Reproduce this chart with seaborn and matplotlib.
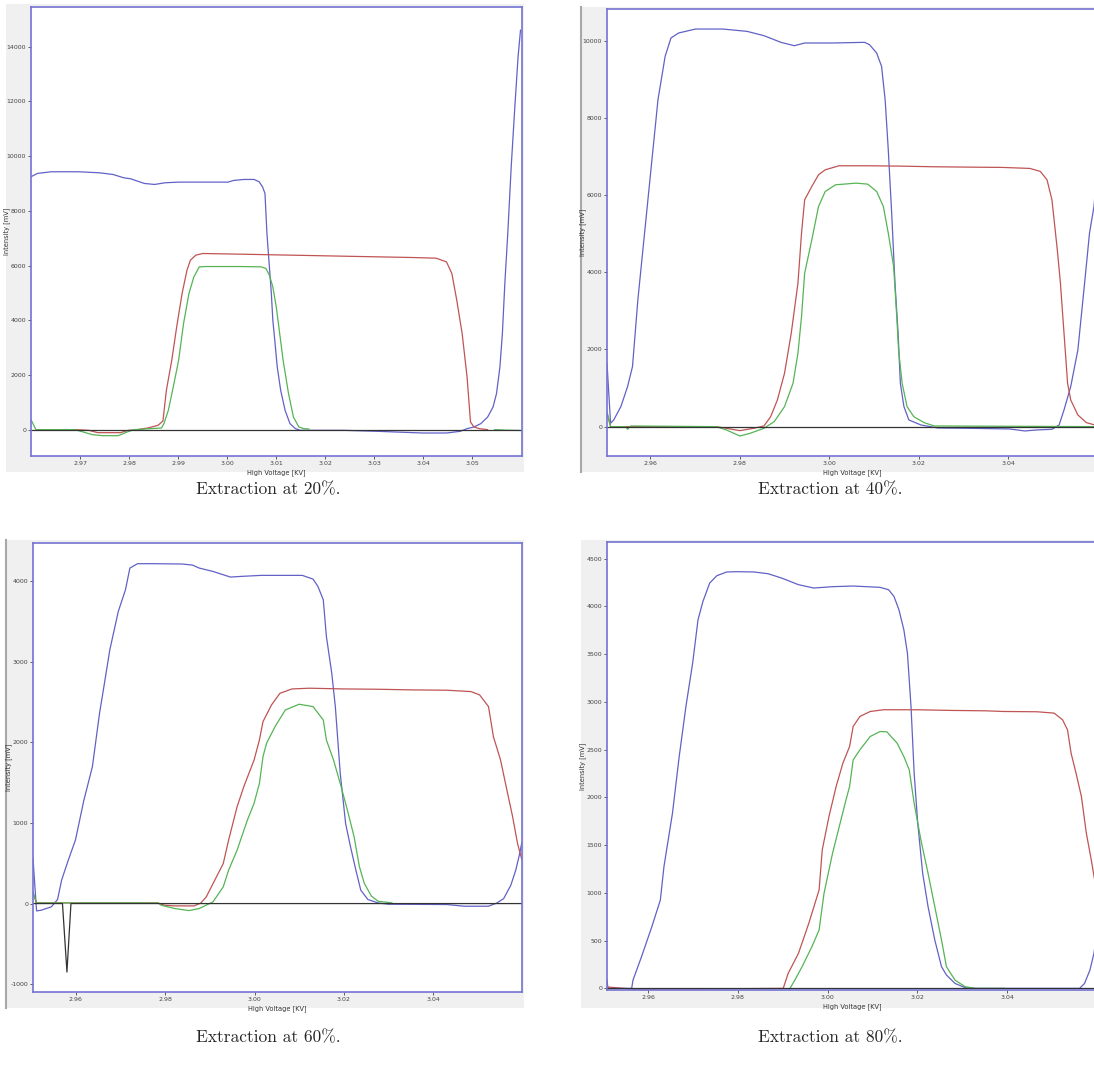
import matplotlib
matplotlib.use("Agg")
import matplotlib.pyplot as plt
import seaborn as sns

# --- Extraction 20% ---
p20_blue_x = [2.9600, 2.9613, 2.9641, 2.9697, 2.9739, 2.9767, 2.9789, 2.9803, 2.9831, 2.9852, 2.9873, 2.9901,
              2.9957, 3.0002, 3.0013, 3.0034, 3.0055, 3.0065, 3.0072, 3.0077, 3.0079, 3.0081, 3.0084, 3.0087,
              3.0090, 3.0093, 3.0097, 3.0102, 3.0109, 3.0118, 3.0128, 3.0139, 3.0149, 3.0167, 3.0237, 3.0307,
              3.0342, 3.0398, 3.0447, 3.0475, 3.0489, 3.0503, 3.0517, 3.0531, 3.0542, 3.0549, 3.0556, 3.0561,
              3.0566, 3.0572, 3.0579, 3.0586, 3.0593, 3.0598]
p20_blue_y = [9244, 9366, 9427, 9427, 9390, 9329, 9207, 9171, 9000, 8963, 9024, 9049,
              9049, 9049, 9110, 9146, 9146, 9061, 8878, 8634, 7902, 7171, 6439, 5707,
              4976, 4000, 3268, 2293, 1439, 707, 220, 37, -24, -24, -24, -61,
              -85, -122, -122, -61, 37, 98, 220, 463, 829, 1317, 2293, 3512,
              5341, 7171, 9610, 11683, 13634, 14610]
p20_red_x = [2.9690, 2.9718, 2.9736, 2.9782, 2.9799, 2.9817, 2.9838, 2.9859, 2.9869, 2.9876, 2.9887, 2.9897,
             2.9908, 2.9918, 2.9925, 2.9936, 2.9950, 3.0027, 3.0097, 3.0167, 3.0237, 3.0307, 3.0377, 3.0426,
             3.0447, 3.0458, 3.0468, 3.0479, 3.0489, 3.0496, 3.0503, 3.0514, 3.0531]
p20_red_y = [0, -24, -110, -110, -24, 0, 61, 159, 317, 1439, 2537, 3756,
             4976, 5829, 6195, 6378, 6439, 6415, 6390, 6366, 6341, 6317, 6293, 6268,
             6134, 5707, 4732, 3512, 1927, 280, 98, 37, 0]
p20_green_x = [2.9600, 2.9610, 2.9690, 2.9725, 2.9746, 2.9778, 2.9796, 2.9810, 2.9866, 2.9871, 2.9880, 2.9890,
               2.9901, 2.9911, 2.9922, 2.9932, 2.9943, 2.9957, 3.0027, 3.0069, 3.0079, 3.0086, 3.0093, 3.0100,
               3.0107, 3.0114, 3.0125, 3.0135, 3.0146, 3.0156, 3.0167]
p20_green_y = [366, 0, 0, -183, -220, -220, -85, 0, 61, 220, 707, 1561,
               2537, 3878, 4976, 5585, 5951, 5963, 5963, 5951, 5890, 5646, 5220, 4488,
               3512, 2537, 1317, 463, 98, 37, 24]
p20_green2_x = [3.0545, 3.0570, 3.0600]
p20_green2_y = [0, -20, -30]
p20_black_x = [2.9600, 3.0600]
p20_black_y = [0, 0]

# --- Extraction 40% ---
p40_blue_x = [2.9503, 2.9511, 2.9518, 2.9534, 2.9549, 2.9560, 2.9572, 2.9587, 2.9602, 2.9617, 2.9633, 2.9646,
              2.9663, 2.9701, 2.9762, 2.9816, 2.9854, 2.9892, 2.9922, 2.9945, 3.0006, 3.0079, 3.0090, 3.0106,
              3.0117, 3.0125, 3.0132, 3.0140, 3.0147, 3.0154, 3.0159, 3.0167, 3.0178, 3.0205, 3.0243, 3.0311,
              3.0403, 3.0437, 3.0464, 3.0498, 3.0514, 3.0525, 3.0540, 3.0556, 3.0571, 3.0582, 3.0592, 3.0601]
p40_blue_y = [1642, 86, 173, 519, 1037, 1556, 3284, 5013, 6742, 8470, 9594, 10069,
              10199, 10302, 10302, 10242, 10130, 9957, 9870, 9940, 9940, 9957, 9897, 9680,
              9335, 8470, 7174, 5445, 3716, 2420, 1124, 519, 173, 43, -35, -43,
              -60, -112, -86, -69, 43, 432, 1037, 1988, 3716, 5013, 5704, 6914]
p40_red_x = [2.9503, 2.9511, 2.9747, 2.9770, 2.9800, 2.9831, 2.9854, 2.9869, 2.9884, 2.9900, 2.9915, 2.9930,
             2.9938, 2.9945, 2.9961, 2.9976, 2.9991, 3.0022, 3.0083, 3.0159, 3.0235, 3.0311, 3.0388, 3.0449,
             3.0472, 3.0487, 3.0498, 3.0510, 3.0517, 3.0525, 3.0533, 3.0540, 3.0556, 3.0575, 3.0601]
p40_red_y = [346, 0, 0, -43, -104, -43, 17, 259, 691, 1383, 2420, 3716,
             5013, 5877, 6223, 6525, 6655, 6759, 6759, 6750, 6733, 6724, 6716, 6690,
             6612, 6396, 5877, 4581, 3716, 2420, 1124, 691, 302, 104, 20]
p40_green_x = [2.9503, 2.9511, 2.9545, 2.9549, 2.9556, 2.9747, 2.9770, 2.9800, 2.9823, 2.9854, 2.9877, 2.9900,
               2.9919, 2.9930, 2.9938, 2.9945, 2.9961, 2.9976, 2.9991, 3.0014, 3.0060, 3.0086, 3.0106, 3.0121,
               3.0132, 3.0144, 3.0151, 3.0155, 3.0163, 3.0174, 3.0189, 3.0212, 3.0235, 3.0601]
p40_green_y = [389, 0, 0, -69, 17, 0, -86, -242, -173, -43, 130, 519,
               1124, 1901, 2852, 3976, 4840, 5704, 6093, 6266, 6309, 6283, 6093, 5704,
               5013, 4149, 2852, 1988, 1124, 519, 259, 104, 17, 0]
p40_black_x = [2.9503, 3.0601]
p40_black_y = [0, 0]

# --- Extraction 60% ---
p60_blue_x = [2.9504, 2.9512, 2.9522, 2.9545, 2.9559, 2.9568, 2.9583, 2.9599, 2.9618, 2.9637, 2.9653, 2.9664,
              2.9676, 2.9695, 2.9711, 2.9721, 2.9738, 2.9776, 2.9838, 2.9861, 2.9876, 2.9907, 2.9946, 2.9969,
              3.0015, 3.0107, 3.0131, 3.0142, 3.0154, 3.0161, 3.0173, 3.0181, 3.0192, 3.0204, 3.0215, 3.0227,
              3.0238, 3.0254, 3.0277, 3.0300, 3.0431, 3.0470, 3.0524, 3.0543, 3.0558, 3.0574, 3.0585, 3.0593,
              3.0599]
p60_blue_y = [560, -91, -83, -41, 50, 290, 539, 788, 1285, 1700, 2363, 2736,
              3150, 3627, 3896, 4166, 4220, 4220, 4216, 4203, 4166, 4124, 4054, 4062,
              4075, 4075, 4029, 3938, 3772, 3316, 2860, 2446, 1617, 995, 705, 415,
              166, 50, 8, -8, -12, -33, -33, 8, 62, 228, 415, 601,
              767]
p60_red_x = [2.9504, 2.9512, 2.9784, 2.9799, 2.9822, 2.9865, 2.9880, 2.9892, 2.9911, 2.9930, 2.9942, 2.9961,
             2.9976, 2.9999, 3.0011, 3.0019, 3.0038, 3.0057, 3.0084, 3.0123, 3.0200, 3.0277, 3.0354, 3.0431,
             3.0485, 3.0504, 3.0524, 3.0535, 3.0551, 3.0562, 3.0578, 3.0589, 3.0599]
p60_red_y = [124, 8, 8, -21, -29, -29, 8, 83, 290, 497, 788, 1202,
             1451, 1782, 2031, 2259, 2466, 2611, 2665, 2674, 2665, 2661, 2653, 2649,
             2632, 2591, 2446, 2072, 1782, 1492, 1078, 746, 539]
p60_green_x = [2.9504, 2.9512, 2.9784, 2.9791, 2.9822, 2.9853, 2.9876, 2.9907, 2.9930, 2.9942, 2.9961, 2.9984,
               2.9999, 3.0011, 3.0019, 3.0027, 3.0046, 3.0069, 3.0100, 3.0131, 3.0154, 3.0161, 3.0177, 3.0192,
               3.0208, 3.0223, 3.0235, 3.0246, 3.0262, 3.0277, 3.0308]
p60_green_y = [145, 8, 8, -21, -62, -87, -62, 21, 207, 415, 663, 1036,
               1244, 1492, 1824, 1990, 2197, 2404, 2475, 2446, 2280, 2031, 1782, 1492,
               1161, 829, 456, 249, 91, 29, 8]
p60_black_x = [2.9504, 2.9570, 2.9580, 2.9589, 3.0599]
p60_black_y = [0, 0, -850, 0, 0]

# --- Extraction 80% ---
p80_blue_x = [2.9508, 2.9510, 2.9563, 2.9566, 2.9585, 2.9608, 2.9627, 2.9635, 2.9654, 2.9669, 2.9684, 2.9699,
              2.9711, 2.9722, 2.9737, 2.9753, 2.9775, 2.9798, 2.9836, 2.9867, 2.9897, 2.9935, 2.9969, 3.0011,
              3.0057, 3.0117, 3.0136, 3.0148, 3.0159, 3.0170, 3.0178, 3.0186, 3.0193, 3.0201, 3.0212, 3.0224,
              3.0239, 3.0254, 3.0265, 3.0284, 3.0307, 3.0330, 3.0562, 3.0573, 3.0585, 3.0594, 3.0603]
p80_blue_y = [94, 0, 0, 87, 332, 646, 926, 1275, 1834, 2428, 2952, 3407,
              3861, 4053, 4245, 4322, 4361, 4364, 4361, 4343, 4298, 4228, 4193, 4207,
              4214, 4200, 4175, 4105, 3966, 3756, 3511, 2952, 2254, 1730, 1205, 856,
              507, 227, 140, 52, 7, 0, 0, 52, 192, 367, 681]
p80_red_x = [2.9508, 2.9570, 2.9901, 2.9912, 2.9935, 2.9958, 2.9981, 2.9988, 3.0003, 3.0019, 3.0034, 3.0049,
             3.0057, 3.0072, 3.0095, 3.0125, 3.0201, 3.0277, 3.0353, 3.0391, 3.0467, 3.0505, 3.0524, 3.0535,
             3.0543, 3.0554, 3.0566, 3.0577, 3.0588, 3.0603]
p80_red_y = [15, -10, 0, 157, 367, 681, 1031, 1450, 1799, 2114, 2358, 2533,
             2743, 2848, 2900, 2918, 2918, 2911, 2907, 2900, 2897, 2883, 2813, 2708,
             2463, 2254, 2009, 1625, 1345, 926]
p80_green_x = [2.9914, 2.9927, 2.9943, 2.9965, 2.9981, 2.9992, 3.0011, 3.0026, 3.0041, 3.0049, 3.0057, 3.0072,
               3.0095, 3.0117, 3.0132, 3.0155, 3.0170, 3.0182, 3.0193, 3.0208, 3.0224, 3.0239, 3.0254, 3.0265,
               3.0284, 3.0307, 3.0330, 3.0395]
p80_green_y = [-17, 87, 227, 437, 611, 996, 1415, 1695, 1974, 2114, 2393, 2498,
               2638, 2690, 2687, 2568, 2428, 2289, 1939, 1555, 1205, 856, 507, 227,
               87, 17, 0, 0]
p80_black_x = [2.9508, 3.0603]
p80_black_y = [0, 0]

captions = ["Extraction at 20%.", "Extraction at 40%.", "Extraction at 60%.", "Extraction at 80%."]

BLUE = "#6161c6"
RED = "#c05454"
GREEN = "#55b455"
BLACK = "#333333"
FRAME = "#7373d2"
PANEL_BG = "#f0f0f0"

sns.set_style("white")
plt.rcParams["font.family"] = ["DejaVu Sans"]

W, H = 1094, 1070
fig = plt.figure(figsize=(W / 100, H / 100), dpi=100)


def fbox(x0, y0, x1, y1):
    # pixel box -> figure coords
    return [x0 / W, 1 - y1 / H, (x1 - x0) / W, (y1 - y0) / H]


panels = [
    dict(bg=(6, 4, 524, 472), box=(31, 7, 522, 456), edge=False,
         xlim=(2.9600, 3.0601), ylim=(-963, 15450),
         xticks=[2.97, 2.98, 2.99, 3.00, 3.01, 3.02, 3.03, 3.04, 3.05],
         yticks=list(range(0, 14001, 2000)),
         series=[(p20_blue_x, p20_blue_y, BLUE), (p20_red_x, p20_red_y, RED),
                 (p20_green_x, p20_green_y, GREEN), (p20_green2_x, p20_green2_y, GREEN),
                 (p20_black_x, p20_black_y, BLACK)],
         cap=(268, 490)),
    dict(bg=(581, 7, 1094, 472), box=(607, 9, 1098, 456), edge=True,
         xlim=(2.9503, 3.0601), ylim=(-761, 10821),
         xticks=[2.96, 2.98, 3.00, 3.02, 3.04],
         yticks=list(range(0, 10001, 2000)),
         series=[(p40_blue_x, p40_blue_y, BLUE), (p40_red_x, p40_red_y, RED),
                 (p40_green_x, p40_green_y, GREEN), (p40_black_x, p40_black_y, BLACK)],
         cap=(830, 490)),
    dict(bg=(6, 540, 524, 1008), box=(33, 543, 522, 992), edge=True,
         xlim=(2.9504, 3.0599), ylim=(-1098, 4477),
         xticks=[2.96, 2.98, 3.00, 3.02, 3.04],
         yticks=list(range(-1000, 4001, 1000)),
         series=[(p60_blue_x, p60_blue_y, BLUE), (p60_red_x, p60_red_y, RED),
                 (p60_green_x, p60_green_y, GREEN), (p60_black_x, p60_black_y, BLACK)],
         cap=(268, 1038)),
    dict(bg=(581, 540, 1094, 1008), box=(607, 542, 1098, 990), edge=False,
         xlim=(2.9508, 3.0603), ylim=(-17, 4675),
         xticks=[2.96, 2.98, 3.00, 3.02, 3.04],
         yticks=list(range(0, 4501, 500)),
         series=[(p80_blue_x, p80_blue_y, BLUE), (p80_red_x, p80_red_y, RED),
                 (p80_green_x, p80_green_y, GREEN), (p80_black_x, p80_black_y, BLACK)],
         cap=(830, 1038)),
]

for p, cap in zip(panels, captions):
    # grey window background
    bg = fig.add_axes(fbox(*p["bg"]))
    bg.set_facecolor(PANEL_BG)
    bg.set_xticks([])
    bg.set_yticks([])
    for name, sp in bg.spines.items():
        sp.set_visible(name == "left" and p["edge"])
        sp.set_color("#a8a8a8")
        sp.set_linewidth(1.5)

    ax = fig.add_axes(fbox(*p["box"]))
    ax.set_facecolor("white")
    for x, y, c in p["series"]:
        sns.lineplot(x=x, y=y, color=c, ax=ax, sort=False, estimator=None, linewidth=0.9)
    ax.set_xlim(*p["xlim"])
    ax.set_ylim(*p["ylim"])
    ax.set_xticks(p["xticks"])
    ax.set_xticklabels([f"{t:.2f}" for t in p["xticks"]])
    ax.set_yticks(p["yticks"])
    ax.set_yticklabels([str(t) for t in p["yticks"]])
    ax.tick_params(axis="both", labelsize=4.5, length=2, width=0.6, pad=1.5,
                   colors="#444444", direction="out", bottom=True, left=True)
    for sp in ax.spines.values():
        sp.set_color(FRAME)
        sp.set_linewidth(1.2)
    ax.set_xlabel("High Voltage [KV]", fontsize=4.8, color="#333333")
    ax.set_ylabel("Intensity [mV]", fontsize=4.8, color="#333333")
    ax.xaxis.set_label_coords(0.5, -0.029)
    ax.yaxis.set_label_coords(-0.043, 0.5)

    fig.text(p["cap"][0] / W, 1 - p["cap"][1] / H, cap, ha="center", va="center",
             fontsize=12.5, family="cmr10")

fig.savefig("out.png", dpi=100)
